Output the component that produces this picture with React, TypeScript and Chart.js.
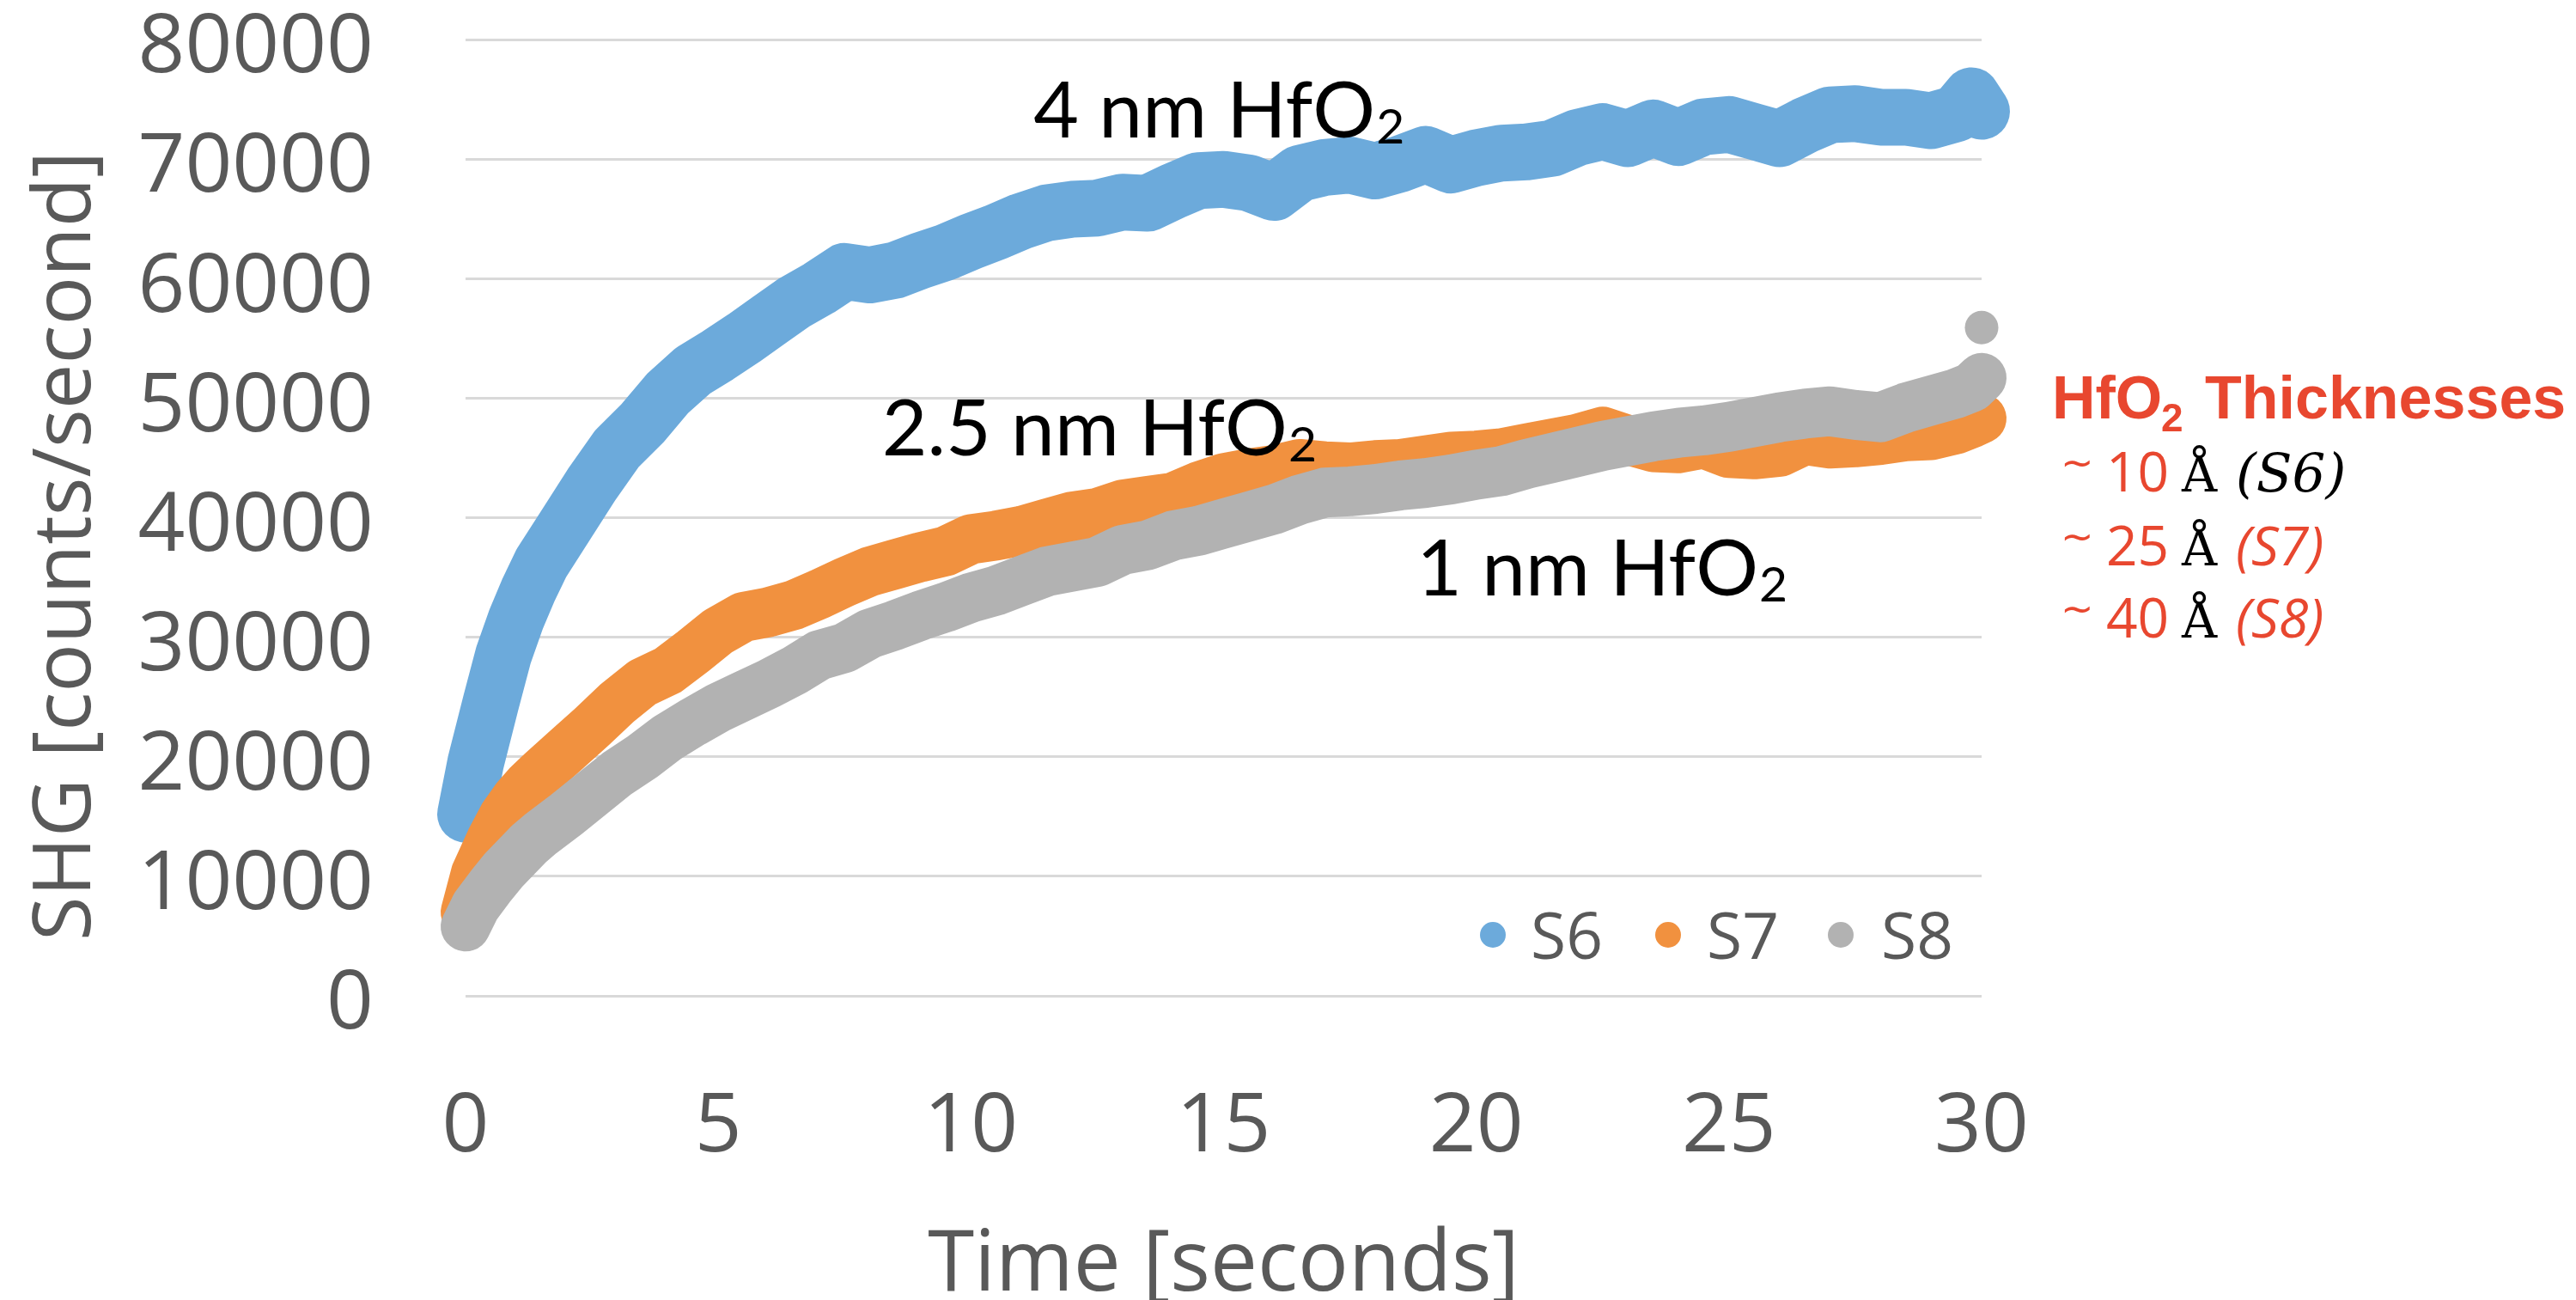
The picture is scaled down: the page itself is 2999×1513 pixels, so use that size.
import React, { useEffect, useRef } from "react";
import { Chart, registerables } from "chart.js";

Chart.register(...registerables);

// ---------- data ----------
const times = [
  0, 0.2, 0.5, 0.75, 1, 1.25, 1.5, 2, 2.5, 3, 3.5, 4, 4.5, 5, 5.5, 6, 6.5, 7, 7.5, 8,
  8.5, 9, 9.5, 10, 10.5, 11, 11.5, 12, 12.5, 13, 13.5, 14, 14.5, 15, 15.5, 16, 16.5,
  17, 17.5, 18, 18.5, 19, 19.5, 20, 20.5, 21, 21.5, 22, 22.5, 23, 23.5, 24, 24.5, 25,
  25.5, 26, 26.5, 27, 27.5, 28, 28.5, 29, 29.5, 29.8, 30,
];

const s6Values = [
  15200, 19500, 24500, 28500, 31500, 34000, 36200, 39500, 42800, 45800, 47900, 50400,
  52300, 53600, 55000, 56500, 58000, 59200, 60600, 60300, 60700, 61500, 62200, 63100,
  63900, 64800, 65500, 65800, 65900, 66400, 66300, 67300, 68200, 68300, 68000, 67200,
  68800, 69300, 69500, 69000, 69600, 70400, 69500, 70100, 70500, 70600, 70900, 71800,
  72300, 71700, 72600, 71800, 72700, 72900, 72300, 71700, 72800, 73700, 73800, 73500,
  73500, 73200, 73800, 75300, 74000,
];

const s7Values = [
  7000, 10200, 13000, 15000, 16500, 17700, 18700, 20600, 22500, 24500, 26200, 27200,
  28800, 30500, 31700, 32100, 32700, 33600, 34600, 35500, 36100, 36700, 37200, 38200,
  38500, 38900, 39500, 40100, 40400, 41100, 41400, 41700, 42600, 43300, 43700, 44000,
  44500, 44300, 44200, 44400, 44500, 44800, 45100, 45200, 45400, 45800, 46200, 46600,
  47200, 46500, 45900, 45800, 46200, 45400, 45300, 45500, 46500, 46200, 46300, 46500,
  46800, 46900, 47400, 47900, 48300,
];

const s8Values = [
  5800, 7500, 9200, 10500, 11600, 12700, 13600, 15200, 16900, 18600, 20000, 21600,
  22900, 24100, 25100, 26100, 27200, 28500, 29100, 30300, 31000, 31800, 32500, 33300,
  33900, 34700, 35500, 35900, 36300, 37300, 37700, 38500, 38900, 39500, 40100, 40700,
  41500, 42100, 42200, 42400, 42700, 42900, 43200, 43600, 43900, 44500, 45000, 45500,
  46000, 46400, 46800, 47100, 47300, 47600, 48000, 48400, 48700, 48900, 48600, 48400,
  49200, 49800, 50400, 50900, 51700,
];

const s8OutlierTimes = [30];
const s8OutlierValues = [55900];

const seriesNames = ["S6", "S7", "S8"];
const seriesColors = ["#6CAADB", "#F1913F", "#B2B2B2"];

const xTitle = "Time [seconds]";
const yTitle = "SHG [counts/second]";

// curve labels: main text + subscript, anchored in data coordinates
const curveLabelMain = ["4 nm HfO", "2.5 nm HfO", "1 nm HfO"];
const curveLabelSub = ["2", "2", "2"];
const curveLabelTimes = [11.24, 8.24, 18.82];
const curveLabelValues = [71800, 45200, 33500];

// thickness box
const thicknessTitleMain = "HfO";
const thicknessTitleSub = "2";
const thicknessTitleRest = "Thicknesses";
const thicknessAngstrom = ["10", "25", "40"];
const thicknessSample = ["(S6)", "(S7)", "(S8)"];

// ---------- styling / layout ----------
const W = 2999;
const H = 1513;
const AREA = { left: 542, right: 2307, top: 46, bottom: 1159 };
const AXIS_GRAY = "#595959";
const RED = "#E8472F";
const FONT = '"Open Sans"';

const toPoints = (ts: number[], vs: number[]) => ts.map((t, i) => ({ x: t, y: vs[i] }));

const overlayPlugin = {
  id: "overlayText",
  afterDraw(chart: any) {
    const ctx: CanvasRenderingContext2D = chart.ctx;
    const xs = chart.scales.x;
    const ys = chart.scales.y;
    const area = chart.chartArea;

    // y axis title (rotated)
    ctx.save();
    ctx.translate(78, (area.top + area.bottom) / 2 + 33);
    ctx.rotate(-Math.PI / 2);
    ctx.textAlign = "center";
    ctx.textBaseline = "middle";
    ctx.fillStyle = AXIS_GRAY;
    ctx.font = `94px ${FONT}`;
    ctx.fillText(yTitle, 0, 0);
    ctx.restore();

    ctx.save();
    ctx.textAlign = "left";
    ctx.textBaseline = "alphabetic";

    // curve labels
    curveLabelMain.forEach((txt, i) => {
      const x = xs.getPixelForValue(curveLabelTimes[i]);
      const y = ys.getPixelForValue(curveLabelValues[i]);
      ctx.fillStyle = "#000";
      ctx.font = "91px Lato";
      ctx.fillText(txt, x, y);
      const w = ctx.measureText(txt).width;
      ctx.font = "57px Lato";
      ctx.fillText(curveLabelSub[i], x + w + 1, y + 7);
    });

    // series legend (inside plot, bottom right)
    const dotX = [1738, 1942, 2143];
    const textX = [1782, 1987, 2190];
    const legendBase = 1116;
    seriesNames.forEach((name, i) => {
      ctx.fillStyle = seriesColors[i];
      ctx.beginPath();
      ctx.arc(dotX[i], 1088, 15, 0, Math.PI * 2);
      ctx.fill();
      ctx.fillStyle = AXIS_GRAY;
      ctx.font = `75px ${FONT}`;
      ctx.fillText(name, textX[i], legendBase);
    });

    // thickness box (right of plot)
    ctx.fillStyle = RED;
    ctx.font = 'bold 70px "Liberation Sans"';
    ctx.fillText(thicknessTitleMain, 2389, 487);
    ctx.font = 'bold 46px "Liberation Sans"';
    ctx.fillText(thicknessTitleSub, 2516, 502);
    ctx.font = 'bold 70px "Liberation Sans"';
    ctx.fillText(thicknessTitleRest, 2567, 487);

    const baselines = [572, 658, 742];
    thicknessAngstrom.forEach((val, i) => {
      const b = baselines[i];
      ctx.fillStyle = RED;
      ctx.font = '46px "DejaVu Sans"';
      ctx.fillText("~", 2399, b - 18);
      ctx.font = `64px ${FONT}`;
      ctx.fillText(val, 2452, b);
      ctx.fillStyle = "#000";
      ctx.font = '57px "DejaVu Serif"';
      ctx.fillText("Å", 2540, b);
      if (i === 0) {
        ctx.fillStyle = "#000";
        ctx.font = 'italic 61px "DejaVu Serif"';
      } else {
        ctx.fillStyle = RED;
        ctx.font = `italic 63px ${FONT}`;
      }
      ctx.fillText(thicknessSample[i], 2603, b);
    });

    ctx.restore();
  },
};

export default function App() {
  const ref = useRef<HTMLCanvasElement>(null);

  useEffect(() => {
    const canvas = ref.current!;
    const lineDs = (label: string, vals: number[], color: string, width: number, order: number) => ({
      label,
      data: toPoints(times, vals),
      showLine: true,
      borderColor: color,
      backgroundColor: color,
      borderWidth: width,
      borderCapStyle: "round",
      borderJoinStyle: "round",
      pointRadius: 0,
      tension: 0,
      fill: false,
      clip: false,
      order,
    });

    const chart = new Chart(canvas, {
      type: "scatter",
      data: {
        datasets: [
          lineDs(seriesNames[0], s6Values, seriesColors[0], 66, 2) as any,
          lineDs(seriesNames[1], s7Values, seriesColors[1], 58, 1) as any,
          lineDs(seriesNames[2], s8Values, seriesColors[2], 58, 0) as any,
          {
            label: "S8 (last)",
            data: toPoints(s8OutlierTimes, s8OutlierValues),
            showLine: false,
            pointRadius: 19.5,
            pointBorderWidth: 0,
            backgroundColor: seriesColors[2],
            borderColor: seriesColors[2],
            clip: false,
            order: 0,
          } as any,
        ],
      },
      options: {
        responsive: false,
        animation: false,
        devicePixelRatio: 1,
        events: [],
        layout: {
          padding: { left: 0, top: AREA.top, right: W - AREA.right, bottom: 0 },
        },
        plugins: {
          legend: { display: false },
          tooltip: { enabled: false },
          title: { display: false },
        },
        scales: {
          x: {
            type: "linear",
            min: 0,
            max: 30,
            ticks: {
              stepSize: 5,
              autoSkip: false,
              maxRotation: 0,
              padding: 96,
              color: AXIS_GRAY,
              font: { family: FONT, size: 96 },
              callback: (v: any) => String(v),
            },
            grid: { display: false, drawTicks: false },
            border: { display: false },
            title: {
              display: true,
              text: xTitle,
              color: AXIS_GRAY,
              font: { family: FONT, size: 98, lineHeight: 0.8 },
              padding: { top: 0, bottom: 0 },
            },
            afterFit: (s: any) => {
              s.height = H - AREA.bottom;
              s.paddingLeft = 0;
              s.paddingRight = 0;
            },
          },
          y: {
            min: 0,
            max: 80000,
            ticks: {
              stepSize: 10000,
              autoSkip: false,
              padding: 107,
              labelOffset: 11,
              color: AXIS_GRAY,
              font: { family: FONT, size: 96 },
              callback: (v: any) => String(v),
            },
            grid: { color: "#D9D9D9", lineWidth: 3, drawTicks: false },
            border: { display: false },
            title: { display: false, text: yTitle },
            afterFit: (s: any) => {
              s.width = AREA.left;
              s.paddingTop = 0;
              s.paddingBottom = 0;
            },
          },
        },
      } as any,
      plugins: [overlayPlugin as any],
    });

    return () => chart.destroy();
  }, []);

  return (
    <div style={{ position: "fixed", left: 0, top: 0, width: W, height: H, background: "#fff" }}>
      <canvas ref={ref} width={W} height={H} style={{ display: "block", width: W, height: H }} />
    </div>
  );
}
